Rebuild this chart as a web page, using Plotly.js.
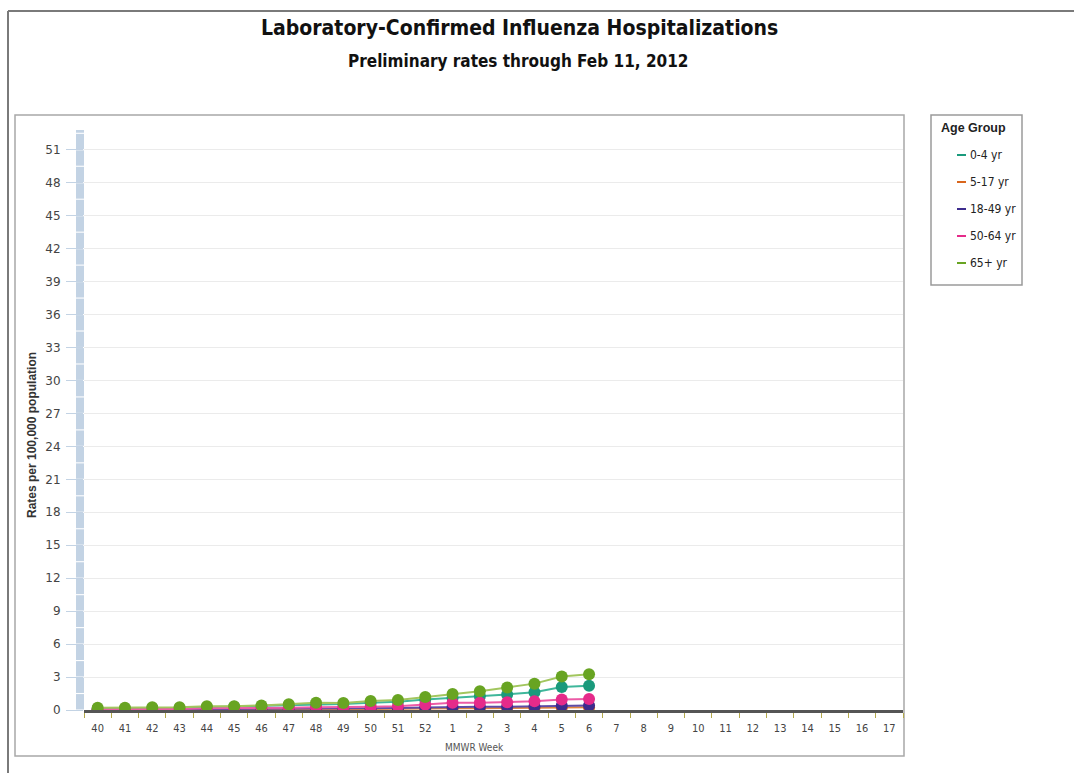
<!DOCTYPE html>
<html>
<head>
<meta charset="utf-8">
<script src="https://cdn.plot.ly/plotly-3.0.1.min.js"></script>
<style>
html,body{margin:0;padding:0;background:#fff;}
#chart{width:1074px;height:773px;}
</style>
</head>
<body>
<div id="chart"></div>
<script>
// ---- data ----
const weeks = ["40","41","42","43","44","45","46","47","48","49","50","51","52","1","2","3","4","5","6","7","8","9","10","11","12","13","14","15","16","17"];
const dataWeeks = ["40","41","42","43","44","45","46","47","48","49","50","51","52","1","2","3","4","5","6"];
const seriesNames = ["0-4 yr","5-17 yr","18-49 yr","50-64 yr","65+ yr"];
const rate0to4   = [0.10,0.10,0.15,0.15,0.25,0.30,0.35,0.45,0.50,0.55,0.65,0.75,0.95,1.10,1.25,1.42,1.62,2.10,2.20];
const rate5to17  = [0.02,0.02,0.03,0.03,0.04,0.05,0.05,0.06,0.07,0.08,0.10,0.10,0.12,0.15,0.17,0.18,0.20,0.22,0.25];
const rate18to49 = [0.02,0.03,0.05,0.05,0.07,0.08,0.10,0.10,0.12,0.12,0.15,0.18,0.22,0.28,0.30,0.30,0.33,0.38,0.40];
const rate50to64 = [0.05,0.05,0.10,0.10,0.15,0.15,0.20,0.20,0.25,0.25,0.30,0.35,0.50,0.65,0.65,0.70,0.80,0.95,1.00];
const rate65plus = [0.20,0.20,0.25,0.25,0.35,0.35,0.42,0.52,0.65,0.63,0.82,0.90,1.18,1.45,1.70,2.05,2.40,3.05,3.25];
const yTicks = [0,3,6,9,12,15,18,21,24,27,30,33,36,39,42,45,48,51];
const legendTitle = "Age Group";

// ---- styles ----
const seriesValues = [rate0to4, rate5to17, rate18to49, rate50to64, rate65plus];
const markerColors = ["#1a9a7c","#d9661c","#3d2c8d","#e52b8a","#68a422"];
const lineColors   = ["#3fb79b","#e0843f","#5d4ca6","#ec5ba6","#a2c65e"];

const traces = seriesNames.map((name,i)=>({
  type:"scatter", mode:"lines+markers", name:name,
  showlegend:false, x:dataWeeks, y:seriesValues[i],
  line:{color:lineColors[i], width:2},
  marker:{color:markerColors[i], size:12},
  hoverinfo:"x+y+name"
}));

const W=819, H=580, L=84, T=130;
const px=(v)=>(v-L)/W;
const py=(v)=>(T+H-v)/H;

const shapes = [
  // outer frame lines
  {type:"line", xref:"paper", yref:"paper", x0:px(8), x1:px(1074), y0:py(11), y1:py(11), line:{color:"#7a7a7a", width:2}},
  {type:"line", xref:"paper", yref:"paper", x0:px(8), x1:px(8), y0:py(11), y1:py(773), line:{color:"#7a7a7a", width:2}},
  // inner chart box
  {type:"rect", xref:"paper", yref:"paper", x0:px(15), x1:px(904), y0:py(115), y1:py(756), line:{color:"#a8a8a8", width:1.5}, layer:"below"},
  // legend box
  {type:"rect", xref:"paper", yref:"paper", x0:px(931), x1:px(1022), y0:py(115), y1:py(285), line:{color:"#9a9a9a", width:1.5}, layer:"below"}
];
// segmented light-blue band along the y axis
const yMax = 52.8;
for(let k=0; k*1.5<yMax; k++){
  const y0 = k*1.5 + 0.05;
  const y1 = Math.min((k+1)*1.5 - 0.05, yMax);
  shapes.push({type:"rect", xref:"paper", yref:"y", x0:px(76), x1:px(84), y0:y0, y1:y1,
    fillcolor:"#c3d3e4", line:{width:0}, layer:"above"});
}

const annotations = [
  {xref:"paper", yref:"paper", x:px(519), y:py(28), xanchor:"center", yanchor:"middle", showarrow:false,
   text:"<b>Laboratory-Confirmed Influenza Hospitalizations</b>",
   font:{family:"DejaVu Sans Condensed, DejaVu Sans, sans-serif", size:21, color:"#111"}},
  {xref:"paper", yref:"paper", x:px(518), y:py(61), xanchor:"center", yanchor:"middle", showarrow:false,
   text:"<b>Preliminary rates through Feb 11, 2012</b>",
   font:{family:"DejaVu Sans Condensed, DejaVu Sans, sans-serif", size:17, color:"#111"}},
  {xref:"paper", yref:"paper", x:px(474), y:py(747), xanchor:"center", yanchor:"middle", showarrow:false,
   text:"MMWR Week",
   font:{family:"DejaVu Sans Condensed, Liberation Sans, sans-serif", size:10, color:"#555"}},
  {xref:"paper", yref:"paper", x:px(32), y:py(435), xanchor:"center", yanchor:"middle", showarrow:false,
   textangle:-90, text:"<b>Rates per 100,000 population</b>",
   font:{family:"Liberation Sans, sans-serif", size:12, color:"#333"}},
  {xref:"paper", yref:"paper", x:px(974), y:py(128), xanchor:"center", yanchor:"middle", showarrow:false,
   text:"<b>"+legendTitle+"</b>",
   font:{family:"Liberation Sans, sans-serif", size:12.5, color:"#222"}}
];
// manual legend entries
seriesNames.forEach((name,i)=>{
  const yy = 155 + 27*i;
  shapes.push({type:"line", xref:"paper", yref:"paper", x0:px(957), x1:px(966), y0:py(yy), y1:py(yy),
    line:{color:markerColors[i], width:2}});
  annotations.push({xref:"paper", yref:"paper", x:px(968), y:py(yy), xanchor:"left", yanchor:"middle",
    showarrow:false, text:name,
    font:{family:"DejaVu Sans Condensed, Liberation Sans, sans-serif", size:12, color:"#222"}});
});

const layout = {
  width:1074, height:773,
  margin:{l:L, r:1074-L-W, t:T, b:773-T-H},
  paper_bgcolor:"#ffffff", plot_bgcolor:"#ffffff",
  showlegend:false,
  font:{family:"DejaVu Sans, sans-serif", color:"#333"},
  xaxis:{
    type:"category", categoryorder:"array", categoryarray:weeks,
    tickvals:weeks, ticktext:weeks,
    range:[-0.5, weeks.length-0.5], fixedrange:true,
    showgrid:false, zeroline:false,
    showline:true, linecolor:"#555", linewidth:3,
    ticks:"outside", tickson:"boundaries", ticklen:5, tickwidth:1, tickcolor:"#b3a84a",
    tickfont:{family:"DejaVu Sans Condensed, Liberation Sans, sans-serif", size:11, color:"#444"},
    ticklabelstandoff:6
  },
  yaxis:{
    range:[0, yMax], fixedrange:true,
    tickvals:yTicks, ticktext:yTicks.map(String),
    showgrid:true, gridcolor:"#ebebeb", gridwidth:1,
    zeroline:false, showline:false,
    ticks:"outside", ticklen:17, tickwidth:1, tickcolor:"#c3d3e4",
    tickfont:{family:"DejaVu Sans, sans-serif", size:12, color:"#444"},
    ticklabelstandoff:3
  },
  shapes:shapes,
  annotations:annotations
};

Plotly.newPlot("chart", traces, layout, {displayModeBar:false});
</script>
</body>
</html>
